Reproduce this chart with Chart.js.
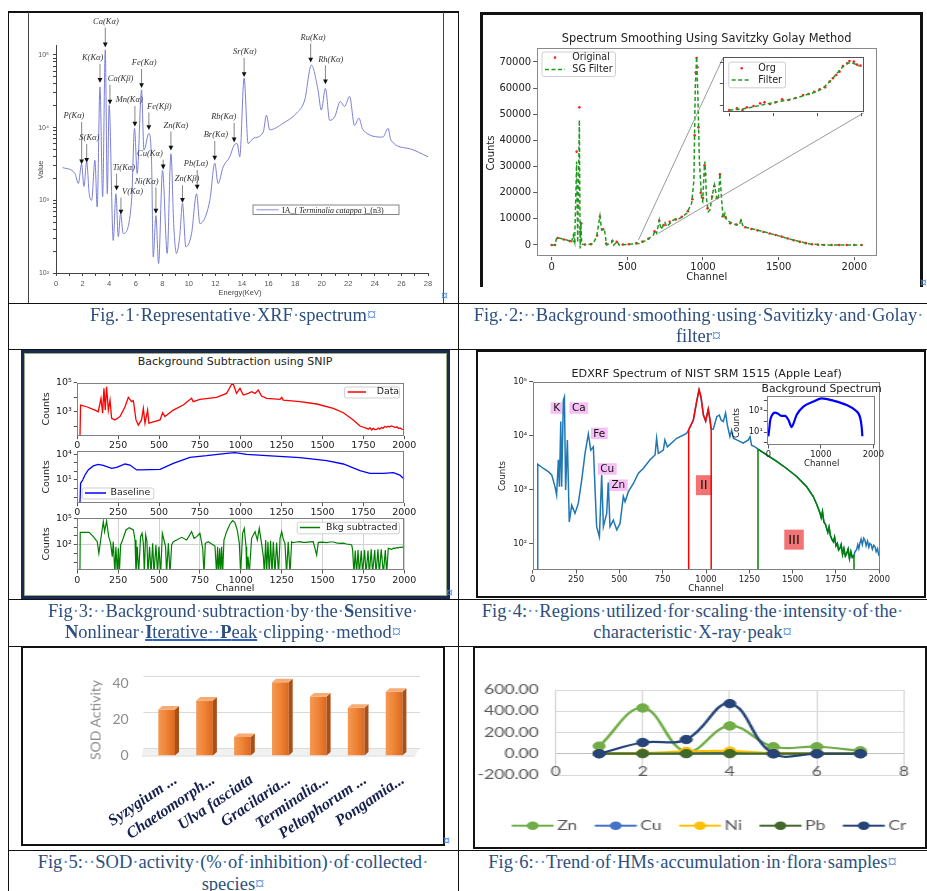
<!DOCTYPE html>
<html>
<head>
<meta charset="utf-8">
<title>XRF figure panel</title>
<script src="https://cdn.jsdelivr.net/npm/chart.js@4.4.1/dist/chart.umd.min.js"></script>
<style>
  html, body { margin:0; padding:0; background:#fff; }
  body { position:relative; width:927px; height:891px; overflow:hidden; }
  canvas { position:absolute; }
  .ln { position:absolute; background:#111; }
  .box { position:absolute; box-sizing:border-box; }
  .cap { position:absolute; font-family:"Liberation Serif","Times New Roman",serif; font-size:18.5px; line-height:21.5px; color:#2c4f80; text-align:center; white-space:nowrap; }
  .m { color:#5b93d6; }
  .cell { position:absolute; font:11px "DejaVu Sans"; color:#4a8ae0; }
  .lbl { position:absolute; white-space:nowrap; font-family:"DejaVu Sans",sans-serif; color:#222; transform:translate(-50%,-50%); line-height:1; }
  .rot { transform:translate(-50%,-50%) rotate(-90deg); }
  u { text-decoration-color:#2f62c0; text-decoration-thickness:2px; }
</style>
</head>
<body>
<!-- table rules -->
<div class="ln" style="left:8px;top:11px;width:1px;height:880px"></div>
<div class="ln" style="left:458px;top:11px;width:1px;height:880px"></div>
<div class="ln" style="left:8px;top:11px;width:451px;height:2px"></div>
<div class="ln" style="left:8px;top:303px;width:919px;height:1px"></div>
<div class="ln" style="left:8px;top:349px;width:919px;height:1px"></div>
<div class="ln" style="left:8px;top:599px;width:919px;height:1px"></div>
<div class="ln" style="left:8px;top:646px;width:919px;height:1px"></div>
<div class="ln" style="left:8px;top:850px;width:919px;height:1px"></div>

<!-- picture frames -->
<div class="ln" style="left:28px;top:12px;width:1px;height:291px;background:#444"></div>
<div class="ln" style="left:443px;top:12px;width:1px;height:291px;background:#444"></div>
<div class="ln" style="left:480px;top:12px;width:443px;height:3px"></div>
<div class="ln" style="left:480px;top:12px;width:3px;height:275px"></div>
<div class="ln" style="left:920px;top:12px;width:3px;height:275px"></div>
<div class="box" style="left:21px;top:350px;width:429px;height:249px;border:3px solid #1b2a4e"></div>
<div class="box" style="left:24px;top:353px;width:423px;height:243px;border:1px solid #9aab8c"></div>
<div class="box" style="left:476px;top:350px;width:450px;height:248px;border:2px solid #111"></div>
<div class="box" style="left:21px;top:646px;width:424px;height:200px;border:2px solid #111"></div>
<div class="box" style="left:473px;top:646px;width:454px;height:203px;border:2px solid #111"></div>

<!-- charts -->
<canvas id="c1" width="413" height="288" style="left:29px;top:14px"></canvas>
<canvas id="c2" width="436" height="283" style="left:483px;top:15px"></canvas>
<canvas id="c2i" width="180" height="85" style="left:700px;top:40px"></canvas>
<canvas id="c3a" width="423" height="80" style="left:24px;top:368px"></canvas>
<canvas id="c3b" width="423" height="77" style="left:24px;top:438px"></canvas>
<canvas id="c3c" width="423" height="90" style="left:24px;top:505px"></canvas>
<canvas id="c4" width="445" height="243" style="left:478px;top:352px"></canvas>
<canvas id="c4i" width="150" height="78" style="left:740px;top:380px"></canvas>
<canvas id="c5" width="420" height="196" style="left:23px;top:648px"></canvas>
<div style="position:absolute;left:475px;top:648px;width:321px;height:198px;transform:scaleX(1.4);transform-origin:0 0">
  <canvas id="c6" width="321" height="198" style="left:0;top:0"></canvas>
</div>

<!-- chart titles and axis titles -->
<div class="lbl" style="left:240px;top:291.5px;font:7.5px 'Liberation Sans';color:#444">Energy(KeV)</div>
<div class="lbl rot" style="left:40px;top:170px;font:7.5px 'Liberation Sans';color:#444">Value</div>

<div class="lbl" style="left:706.7px;top:39px;font-size:11.4px">Spectrum Smoothing Using Savitzky Golay Method</div>
<div class="lbl" style="left:706.7px;top:276.7px;font-size:10px">Channel</div>
<div class="lbl rot" style="left:490.7px;top:152.5px;font-size:10px">Counts</div>

<div class="lbl" style="left:235px;top:361px;font-size:11px">Background Subtraction using SNIP</div>
<div class="lbl rot" style="left:46px;top:409px;font-size:9.5px">Counts</div>
<div class="lbl rot" style="left:46px;top:477px;font-size:9.5px">Counts</div>
<div class="lbl rot" style="left:46px;top:544px;font-size:9.5px">Counts</div>
<div class="lbl" style="left:235px;top:588.3px;font-size:9.5px">Channel</div>

<div class="lbl" style="left:706.7px;top:374.3px;font-size:11.2px">EDXRF Spectrum of NIST SRM 1515 (Apple Leaf)</div>
<div class="lbl" style="left:706px;top:587.7px;font-size:8.6px">Channel</div>
<div class="lbl rot" style="left:501.7px;top:476px;font-size:8.6px">Counts</div>
<div class="lbl" style="left:821.7px;top:389px;font-size:10.8px">Background Spectrum</div>
<div class="lbl" style="left:821.7px;top:462.7px;font-size:8.6px">Channel</div>
<div class="lbl rot" style="left:736px;top:423px;font-size:8.6px">Counts</div>

<div class="lbl rot" style="left:95px;top:720px;font:14px Lato;color:#8c8c8c">SOD Activity</div>

<!-- end-of-cell marks -->
<div class="cell" style="left:441px;top:289px">¤</div>
<div class="cell" style="left:920px;top:276px">¤</div>
<div class="cell" style="left:446px;top:586px">¤</div>
<div class="cell" style="left:443px;top:834px">¤</div>

<!-- captions -->
<div class="cap" style="left:8px;top:304.7px;width:450px">Fig.·1·Representative·XRF·spectrum¤</div>
<div class="cap" style="left:464px;top:304.7px;width:469px">Fig.·2:··Background·smoothing·using·Savitizky·and·Golay·<br>filter¤</div>
<div class="cap" style="left:8px;top:600.7px;width:450px">Fig·3:··Background·subtraction·by·the·<b>S</b>ensitive·<br><b>N</b>onlinear·<u><b>I</b>terative··<b>P</b>eak</u>·clipping··method¤</div>
<div class="cap" style="left:458px;top:600.7px;width:469px">Fig·4:··Regions·utilized·for·scaling·the·intensity·of·the·<br>characteristic·X-ray·peak¤</div>
<div class="cap" style="left:8px;top:852px;width:450px">Fig·5:··SOD·activity·(%·of·inhibition)·of·collected·<br>species¤</div>
<div class="cap" style="left:458px;top:852px;width:469px">Fig·6:··Trend·of·HMs·accumulation·in·flora·samples¤</div>

<script>
// ================= data =================
// Fig. 1: XRF spectrum, energy (keV) and counts
const xrfEnergy = [0.5,1.43,1.68,1.93,2.1,2.31,2.5,2.68,2.93,3.1,3.31,3.51,3.71,3.86,4.0,4.31,4.51,4.69,4.86,5.06,5.69,5.91,6.11,6.44,6.62,6.99,7.19,7.32,7.52,7.72,8.02,8.37,8.65,8.87,9.07,9.32,9.52,9.77,10.2,10.58,10.83,11.58,11.95,12.2,12.58,13.08,13.41,13.63,13.83,14.16,14.46,14.84,15.6,15.84,16.09,17.1,18.1,18.72,19.22,19.72,19.97,20.28,20.6,20.98,21.4,21.72,22.1,22.47,22.8,23.1,24.6,25.0,25.2,26.6,28.0];
const xrfValue = [2820,2340,1700,3160,1550,3390,1230,1000,3550,810,36300,1120,117500,1230,20400,280,1230,316,660,350,1000,9770,2340,33100,4900,8300,3550,166,617,135,2570,186,4370,427,186,331,912,229,347,1230,479,1000,3240,1700,2880,3980,5750,6030,3980,47900,6030,7080,8710,14800,9330,11500,15800,24000,72400,33100,17400,34700,12600,14100,22900,19500,26900,10700,13500,9330,7410,9770,6760,5130,3980];
const xrfPeakNames = ['P(Kα)','S(Kα)','K(Kα)','Ca(Kα)','Ca(Kβ)','Ti(Kα)','V(Kα)','Mn(Kα)','Fe(Kα)','Fe(Kβ)','Ni(Kα)','Cu(Kα)','Zn(Kα)','Zn(Kβ)','Pb(Lα)','Br(Kα)','Rb(Kα)','Sr(Kα)','Ru(Kα)','Rh(Kα)'];
const xrfPeakEnergy = [1.93,2.31,3.31,3.71,4.06,4.56,4.89,5.94,6.44,6.99,7.52,8.07,8.65,9.52,10.63,11.95,13.41,14.16,19.17,20.28];
const xrfPeakValue = [3240,3390,42700,131800,21400,1410,660,10700,36300,9550,676,2750,5010,955,1450,3630,6460,51300,81300,40700];
const xrfLabelEnergy = [1.35,2.51,2.76,3.76,4.86,5.11,5.76,5.51,6.64,7.77,6.82,7.07,9.02,9.87,10.53,12.03,12.63,14.21,19.35,20.68];
const xrfLabelValue = [14500,7240,91200,288000,46800,2820,1320,24000,77600,19500,1820,4370,10700,1950,3160,7940,14100,110000,174000,87100];

// Fig. 2: raw spectrum and Savitzky-Golay smoothed spectrum [channel, counts]
const sgOriginal = [[0,0],[22,0],[40,2700],[80,2100],[120,1500],[150,1400],[165,35700],[176,15000],[183,52650],[188,5000],[196,8200],[220,200],[260,300],[300,3600],[319,10900],[340,6000],[360,600],[400,1500],[430,1200],[470,200],[510,300],[560,700],[600,1300],[640,2400],[680,5200],[711,9300],[740,7600],[780,8900],[820,9800],[860,10800],[900,12900],[930,17500],[945,42000],[952,66000],[958,71500],[963,68000],[970,45000],[985,20000],[1000,18000],[1010,30500],[1015,27000],[1030,14000],[1060,18500],[1075,22500],[1090,18000],[1112,27000],[1130,11000],[1150,10500],[1180,8300],[1220,7800],[1251,9300],[1280,6800],[1320,6100],[1360,5600],[1400,5000],[1440,4400],[1480,3800],[1520,3200],[1560,2500],[1600,1800],[1640,1200],[1680,700],[1720,300],[1760,100],[1800,0],[1850,0],[1900,0],[1950,0],[2000,0],[2048,0]];
const sgFiltered = [[0,0],[22,0],[33,2800],[55,2550],[99,1900],[132,1275],[143,3800],[152,1300],[165,31900],[172,1000],[183,47800],[188,-1300],[193,8900],[198,600],[205,300],[231,0],[275,640],[297,3200],[319,11100],[330,5700],[348,6100],[363,0],[396,900],[403,1650],[410,0],[434,1275],[445,0],[540,380],[584,640],[628,1900],[672,3800],[683,5480],[694,4460],[711,9560],[722,6000],[749,8540],[760,7000],[804,9560],[848,10200],[892,12100],[925,15940],[940,24860],[949,60560],[958,72000],[967,55460],[976,32500],[991,17200],[998,16570],[1009,29960],[1013,31900],[1024,17200],[1035,12750],[1046,13400],[1064,19760],[1075,22950],[1090,18490],[1101,17200],[1112,27400],[1123,17200],[1134,10200],[1145,12100],[1156,9560],[1200,8030],[1240,7650],[1251,9560],[1266,7000],[1377,5480],[1487,3700],[1597,1900],[1707,380],[1817,0],[2048,0]];
const sgZoomOriginal = [[580,1766],[587,1844],[592,1766],[596,1891],[602,1953],[608,2078],[612,2125],[617,2047],[622,2125],[628,2266],[634,2234],[640,2328],[647,2469],[652,2516],[657,2625],[662,2734],[667,2828],[671,3094],[674,3250],[677,3406],[680,3563],[683,3828],[687,3953],[689,4063],[693,4031],[696,3891],[699,3844]];
const sgZoomFiltered = [[580,1766],[593,1828],[608,1984],[623,2141],[638,2297],[650,2484],[661,2672],[667,2891],[673,3203],[679,3563],[685,3875],[690,3984],[694,3922],[698,3828]];
const sgZoomWindow = [[573,1900],[705,4460]];

// Fig. 3: SNIP background subtraction [channel, counts]
const snipData = [[16,10],[20,2880],[57,2190],[108,1290],[128,1000],[145,8300],[155,780],[163,40700],[171,1290],[179,52500],[190,1290],[200,6300],[210,350],[230,270],[261,460],[292,2190],[312,9800],[332,4900],[343,5750],[359,270],[373,120],[393,270],[404,1700],[414,160],[430,1290],[438,160],[465,200],[506,270],[522,850],[536,460],[587,1290],[648,2880],[699,8300],[709,4900],[750,7080],[852,9800],[913,18200],[944,77600],[954,81300],[974,18200],[995,40700],[1015,14100],[1046,18200],[1066,24000],[1087,18200],[1107,30900],[1127,12000],[1158,8300],[1240,7080],[1250,9800],[1260,6300],[1362,4900],[1464,3390],[1566,1700],[1627,850],[1688,270],[1729,102],[1770,71],[1780,62],[1790,78],[1800,55],[1810,70],[1820,58],[1831,60],[1840,75],[1850,62],[1860,80],[1870,72],[1880,95],[1892,83],[1900,100],[1910,88],[1920,105],[1933,93],[1945,80],[1955,90],[1965,70],[1973,75],[1985,62],[2000,60]];
const snipBaseline = [[16,0.01],[20,4.1],[33,10],[47,38],[67,148],[98,437],[128,676],[159,513],[210,229],[241,302],[292,741],[322,562],[363,148],[383,148],[506,178],[587,891],[689,4470],[791,6920],[913,13200],[964,15500],[1036,10000],[1158,6920],[1362,4070],[1525,1820],[1627,741],[1729,123],[1790,60],[1872,60],[1933,72],[1973,38],[2000,12]];
const snipSubtracted = [[16,0.05],[18,2540],[73,2540],[98,815],[122,219],[132,10.3],[143,340],[159,41700],[167,3030],[179,49700],[192,815],[204,142],[214,4.3],[220,219],[230,0.05],[236,59],[245,0.05],[251,38],[257,0.05],[265,92],[277,340],[298,4690],[318,8650],[343,4690],[353,340],[359,0.05],[367,59],[375,0.05],[387,815],[396,1950],[404,142],[410,0.05],[418,1260],[426,219],[432,0.05],[442,59],[451,0.05],[461,142],[469,0.05],[481,92],[491,0.05],[499,59],[510,0.05],[520,1950],[530,340],[540,59],[546,0.05],[557,142],[567,0.05],[577,92],[587,219],[608,340],[638,684],[669,340],[699,3030],[714,526],[730,815],[750,1950],[767,38],[775,0.05],[783,142],[801,219],[822,119],[842,70],[852,0.05],[858,59],[864,0.05],[871,38],[877,0.05],[883,59],[889,0.05],[897,340],[913,3030],[934,22600],[950,54200],[964,32100],[979,3940],[991,142],[999,0.05],[1011,1950],[1021,7260],[1032,59],[1036,0.05],[1044,4.3],[1052,0.05],[1066,526],[1087,3030],[1101,340],[1113,7260],[1127,142],[1138,4.3],[1144,0.05],[1152,340],[1158,0.05],[1166,219],[1174,0.05],[1182,285],[1191,0.05],[1199,219],[1209,0.05],[1219,169],[1231,0.05],[1240,526],[1250,3030],[1260,405],[1270,142],[1280,0.05],[1290,219],[1301,0.05],[1311,219],[1321,169],[1340,200],[1362,219],[1380,185],[1403,180],[1420,210],[1443,219],[1464,6.6],[1474,180],[1500,195],[1525,169],[1545,200],[1566,200],[1585,160],[1606,142],[1627,150],[1647,119],[1665,110],[1678,92],[1684,25],[1692,0.05],[1700,21],[1708,0.05],[1717,25],[1725,0.05],[1737,21],[1745,0.05],[1757,25],[1766,0.05],[1778,21],[1786,0.05],[1798,29],[1806,0.05],[1819,25],[1827,0.05],[1839,29],[1847,0.05],[1859,29],[1872,0.05],[1884,25],[1892,0.05],[1902,38],[1913,33],[1923,29],[1933,40],[1943,38],[1954,45],[1964,44],[1974,50],[1984,50],[1992,55],[2000,70]];

// Fig. 4: EDXRF spectrum of NIST SRM 1515 [channel, counts]
const edxSpectrum = [[27,10],[29,2950],[62,2450],[90,2140],[110,1860],[129,1120],[138,790],[148,3550],[154,1120],[162,18200],[167,1120],[177,45700],[183,52500],[190,980],[200,8300],[211,250],[225,510],[244,360],[263,550],[283,1510],[302,4680],[321,10700],[335,5370],[350,6170],[360,980],[369,204],[385,132],[398,1860],[408,204],[427,360],[436,1350],[446,204],[465,270],[485,178],[504,234],[523,740],[533,590],[552,910],[581,1290],[610,2000],[638,2450],[677,3550],[706,4370],[715,8910],[725,4680],[754,5370],[763,8300],[777,6170],[831,8910],[888,11000],[900,12800],[927,19500],[946,42700],[960,70800],[971,52500],[985,24000],[998,18600],[1013,30900],[1023,19500],[1030,13000],[1042,13200],[1062,22400],[1077,24000],[1087,19500],[1100,18200],[1113,26300],[1123,15800],[1138,9550],[1148,12600],[1158,8910],[1177,8300],[1215,7240],[1244,8300],[1254,9550],[1263,6610],[1283,6170],[1300,5600],[1350,4370],[1408,3310],[1465,2450],[1523,1740],[1581,1120],[1619,740],[1640,520],[1658,363],[1665,300],[1672,390],[1680,250],[1688,230],[1696,191],[1703,160],[1710,200],[1718,140],[1726,120],[1735,107],[1742,130],[1750,90],[1758,100],[1765,75],[1773,81],[1780,95],[1788,62],[1796,80],[1804,58],[1812,65],[1820,78],[1828,52],[1836,70],[1844,55],[1854,60],[1860,70],[1869,76],[1876,95],[1882,80],[1888,100],[1895,120],[1902,95],[1910,125],[1917,115],[1924,90],[1932,110],[1940,85],[1946,100],[1953,95],[1960,78],[1968,92],[1975,87],[1982,70],[1990,80],[1996,62],[2000,65]];
const edxBackground = [[0,4],[19,23],[32,100],[63,340],[127,690],[190,525],[254,340],[318,340],[381,145],[445,30],[476,60],[540,427],[667,2570],[857,7590],[1016,15500],[1238,9330],[1492,3630],[1651,1230],[1746,257],[1778,30],[1791,4]];
const edxRegionII = [900, 1030];
const edxRegionIII = [1300, 1854];
const edxPeakLabels = ['K','Ca','Fe','Cu','Zn'];
const edxPeakLabelCh = [138, 266, 384, 430, 494];
const edxPeakLabelCounts = [32400, 32400, 11000, 2400, 1200];
const edxRegionLabels = ['II','III'];
const edxRegionLabelCh = [987, 1508];
const edxRegionLabelCounts = [1200, 117];

// Fig. 5: SOD activity (% inhibition)
const sodSpecies = ['Syzygium ...','Chaetomorph...','Ulva fasciata','Gracilaria...','Terminalia...','Peltophorum ...','Pongamia...'];
const sodActivity = [25.4, 30.3, 10.2, 40.4, 32.6, 26.3, 35.2];

// Fig. 6: heavy-metal accumulation per sample
const hmSample = [1, 2, 3, 4, 5, 6, 7];
const hmZn = [72, 431, 19, 262, 66, 66, 28];
const hmCu = [3, 4, 4, 6, 3, 2, 3];
const hmNi = [4, 6, 22, 25, 5, 3, 3];
const hmPb = [1, 1, 1, 1, 1, 1, 1];
const hmCr = [0, 106, 134, 472, 0, 0, 0];

// ================= helpers =================
Chart.defaults.animation = false;
Chart.defaults.responsive = false;
Chart.defaults.devicePixelRatio = 1;
Chart.defaults.events = [];
Chart.defaults.plugins.legend.display = false;
Chart.defaults.plugins.tooltip.enabled = false;
Chart.defaults.font.family = 'DejaVu Sans';
Chart.defaults.color = '#333';

const SUP = {'0':'⁰','1':'¹','2':'²','3':'³','4':'⁴','5':'⁵','-':'⁻'};
function decade(v) { const e = Math.log10(v), r = Math.round(e); return Math.abs(e - r) < 1e-6 ? r : null; }
function powLabel(v) { const r = decade(v); return r === null ? '' : '10' + String(r).split('').map(c => SUP[c]).join(''); }
function pts(pairs) { return pairs.map(p => ({x: p[0], y: p[1]})); }
function zip(xs, ys) { return xs.map((x, i) => ({x, y: ys[i]})); }
function setTicks(vals) { return ax => { ax.ticks = vals.map(v => ({value: v})); }; }
function logTicks(lo, hi, minor) {
  const out = [];
  for (let e = lo; e <= hi; e++) {
    out.push(Math.pow(10, e));
    if (minor && e < hi) for (let k = 2; k <= 9; k++) out.push(k * Math.pow(10, e));
  }
  return out;
}
function el(id) { return document.getElementById(id); }
function box(id) { const c = el(id); return {x: parseFloat(c.style.left), y: parseFloat(c.style.top), w: c.width, h: c.height}; }
// layout so the plot area lands on a given page rectangle
function place(id, area) {
  const b = box(id);
  return {
    padding: {left: 0, top: area.t - b.y, right: b.x + b.w - area.r, bottom: 0},
    yw: area.l - b.x,
    xh: b.y + b.h - area.b,
    b
  };
}
function spineBox(color) {
  return { id: 'spines', afterDatasetsDraw(c) {
    const a = c.chartArea, x = c.ctx;
    x.save(); x.strokeStyle = color; x.lineWidth = 1;
    x.strokeRect(Math.round(a.left) + 0.5, Math.round(a.top) + 0.5, Math.round(a.right - a.left) - 1, Math.round(a.bottom - a.top) - 1);
    x.restore();
  }};
}
function legendFrame(ctx, x, y, w, h) {
  ctx.save();
  ctx.fillStyle = 'rgba(255,255,255,0.92)';
  ctx.strokeStyle = '#cfcfcf'; ctx.lineWidth = 1;
  ctx.beginPath(); ctx.roundRect(x + 0.5, y + 0.5, w, h, 2); ctx.fill(); ctx.stroke();
  ctx.restore();
}
function mplX(min, max, ticks, fontSize, fit, labels) {
  return {
    type: 'linear', min, max, afterBuildTicks: setTicks(ticks),
    afterFit: s => { s.height = fit.xh; },
    border: {display: false},
    grid: {display: true, drawOnChartArea: false, tickLength: 3.5, tickColor: '#555'},
    ticks: {autoSkip: false, maxRotation: 0, padding: 1, color: '#222', font: {size: fontSize},
            callback: labels === false ? () => '' : (v => String(v))}
  };
}
function mplLogY(min, max, ticks, fontSize, fit, shown) {
  return {
    type: 'logarithmic', min, max, afterBuildTicks: setTicks(ticks),
    afterFit: s => { s.width = fit.yw; },
    border: {display: false},
    grid: {display: true, drawOnChartArea: false, tickLength: 3.5, tickColor: '#555'},
    ticks: {autoSkip: false, padding: 2, color: '#222', font: {size: fontSize},
            callback: v => (shown.includes(decade(v)) ? powLabel(v) : '')}
  };
}
function line(data, color, width, extra) {
  return Object.assign({data, borderColor: color, borderWidth: width, pointRadius: 0, fill: false, tension: 0}, extra || {});
}

// ================= Fig. 1 =================
(function () {
  const L = place('c1', {l: 56, t: 45, r: 428, b: 273});
  const deco = { id: 'xrfDeco', afterDatasetsDraw(c) {
    const ctx = c.ctx, xs = c.scales.x, ys = c.scales.y;
    ctx.save();
    ctx.font = 'italic 8.5px "Liberation Serif"';
    ctx.textAlign = 'center'; ctx.textBaseline = 'middle';
    xrfPeakNames.forEach((name, i) => {
      const lx = xs.getPixelForValue(xrfLabelEnergy[i]), ly = ys.getPixelForValue(xrfLabelValue[i]);
      const mx = xs.getPixelForValue(xrfPeakEnergy[i]), my = ys.getPixelForValue(xrfPeakValue[i]);
      ctx.fillStyle = '#333'; ctx.fillText(name, lx, ly);
      ctx.strokeStyle = '#666'; ctx.lineWidth = 0.8;
      ctx.beginPath(); ctx.moveTo(mx, ly + 6); ctx.lineTo(mx, my - 3); ctx.stroke();
      ctx.fillStyle = '#111';
      ctx.beginPath(); ctx.moveTo(mx - 2.4, my - 3.8); ctx.lineTo(mx + 2.4, my - 3.8); ctx.lineTo(mx, my + 1); ctx.closePath(); ctx.fill();
    });
    // legend (page coordinates)
    ctx.translate(-L.b.x, -L.b.y);
    ctx.fillStyle = '#fff'; ctx.strokeStyle = '#666'; ctx.lineWidth = 0.8;
    ctx.fillRect(253, 205, 146, 9.5); ctx.strokeRect(253, 205, 146, 9.5);
    ctx.strokeStyle = '#8d90d8'; ctx.lineWidth = 1;
    ctx.beginPath(); ctx.moveTo(256.5, 209.8); ctx.lineTo(278.5, 209.8); ctx.stroke();
    ctx.fillStyle = '#222'; ctx.textAlign = 'left'; ctx.textBaseline = 'alphabetic';
    let x = 282;
    [['IA_( ', ''], ['Terminalia catappa', 'italic '], [' )_(n3)', '']].forEach(([t, st]) => {
      ctx.font = st + '8px "Liberation Serif"'; ctx.fillText(t, x, 212.6); x += ctx.measureText(t).width;
    });
    ctx.restore();
  }};
  const xt = []; for (let k = 0; k <= 28; k++) xt.push(k);
  new Chart(el('c1'), {
    type: 'line',
    data: {datasets: [line(zip(xrfEnergy, xrfValue), '#7b7fd4', 1, {cubicInterpolationMode: 'monotone'})]},
    options: {
      layout: {padding: L.padding},
      scales: {
        x: {type: 'linear', min: 0, max: 28, afterBuildTicks: setTicks(xt), afterFit: s => { s.height = L.xh; },
            border: {display: true, color: '#444', width: 1},
            grid: {display: true, drawOnChartArea: false, tickLength: 3, tickColor: '#444'},
            ticks: {autoSkip: false, maxRotation: 0, padding: 3, color: '#555', font: {family: 'Liberation Sans', size: 7.5},
                    callback: v => (v % 2 === 0 ? String(v) : '')}},
        y: {type: 'logarithmic', min: 100, max: 137000, afterBuildTicks: setTicks(logTicks(2, 5, true)),
            afterFit: s => { s.width = L.yw; },
            border: {display: true, color: '#444', width: 1},
            grid: {display: true, drawOnChartArea: false, tickLength: 3, tickColor: '#444'},
            ticks: {autoSkip: false, padding: 4, color: '#555', font: {family: 'Liberation Sans', size: 7},
                    callback: v => powLabel(v)}}
      }
    },
    plugins: [deco]
  });
})();

// ================= Fig. 2 =================
(function () {
  const L = place('c2', {l: 536.7, t: 48.3, r: 876.7, b: 256.7});
  const deco = { id: 'sgDeco', afterDraw(c) {
    const ctx = c.ctx, xs = c.scales.x, ys = c.scales.y;
    ctx.save();
    // lines from the zoomed window to the inset corners
    ctx.strokeStyle = '#9a9a9a'; ctx.lineWidth = 1;
    const corners = [[723.3, 57.3], [864, 112.7]];
    sgZoomWindow.forEach((p, i) => {
      ctx.beginPath();
      ctx.moveTo(xs.getPixelForValue(p[0]), ys.getPixelForValue(p[1]));
      ctx.lineTo(corners[i][0] - L.b.x, corners[i][1] - L.b.y);
      ctx.stroke();
    });
    ctx.translate(-L.b.x, -L.b.y);
    legendFrame(ctx, 541.5, 51.5, 73.5, 24.5);
    ctx.fillStyle = '#ff2020'; ctx.beginPath(); ctx.arc(555, 57.6, 1.3, 0, 7); ctx.fill();
    ctx.strokeStyle = '#1f9a1f'; ctx.lineWidth = 1.5; ctx.setLineDash([4, 2.5]);
    ctx.beginPath(); ctx.moveTo(545, 69.5); ctx.lineTo(565, 69.5); ctx.stroke(); ctx.setLineDash([]);
    ctx.fillStyle = '#222'; ctx.font = '9.6px "DejaVu Sans"'; ctx.textBaseline = 'middle';
    ctx.fillText('Original', 572.3, 57.6); ctx.fillText('SG Filter', 572.3, 69.5);
    ctx.restore();
  }};
  new Chart(el('c2'), {
    type: 'line',
    data: {datasets: [
      line(pts(sgFiltered), '#1f9a1f', 1.5, {borderDash: [4, 2.5], order: 0}),
      {data: pts(sgOriginal), showLine: false, pointRadius: 1.3, pointBorderWidth: 0, pointBackgroundColor: '#ff2020', order: 1}
    ]},
    options: {
      layout: {padding: L.padding},
      scales: {
        x: mplX(-99, 2148, [0, 500, 1000, 1500, 2000], 10, L),
        y: {type: 'linear', min: -4476, max: 75240, afterBuildTicks: setTicks([0,10000,20000,30000,40000,50000,60000,70000]),
            afterFit: s => { s.width = L.yw; }, border: {display: false},
            grid: {display: true, drawOnChartArea: false, tickLength: 3.5, tickColor: '#555'},
            ticks: {autoSkip: false, padding: 2, color: '#222', font: {size: 10}, callback: v => String(v)}}
      }
    },
    plugins: [spineBox('#8a8a8a'), deco]
  });

  const I = place('c2i', {l: 723.3, t: 57.3, r: 864, b: 112.7});
  const idec = {
    id: 'insetDeco',
    beforeDraw(c) { const a = c.chartArea; c.ctx.save(); c.ctx.fillStyle = '#fff'; c.ctx.fillRect(a.left, a.top, a.width, a.height); c.ctx.restore(); },
    afterDraw(c) {
      const ctx = c.ctx; ctx.save(); ctx.translate(-I.b.x, -I.b.y);
      legendFrame(ctx, 728.3, 61.7, 56.7, 25.6);
      ctx.fillStyle = '#ff2020'; ctx.beginPath(); ctx.arc(741.7, 68.3, 1.3, 0, 7); ctx.fill();
      ctx.strokeStyle = '#1f9a1f'; ctx.lineWidth = 1.5; ctx.setLineDash([4, 2.5]);
      ctx.beginPath(); ctx.moveTo(731.7, 80); ctx.lineTo(751, 80); ctx.stroke(); ctx.setLineDash([]);
      ctx.fillStyle = '#222'; ctx.font = '9.6px "DejaVu Sans"'; ctx.textBaseline = 'middle';
      ctx.fillText('Org', 758.3, 68.3); ctx.fillText('Filter', 758.3, 80);
      ctx.restore();
    }
  };
  new Chart(el('c2i'), {
    type: 'line',
    data: {datasets: [
      line(pts(sgZoomFiltered), '#1f9a1f', 1.5, {borderDash: [4, 2.5], order: 0, cubicInterpolationMode: 'monotone'}),
      {data: pts(sgZoomOriginal), showLine: false, pointRadius: 1.3, pointBorderWidth: 0, pointBackgroundColor: '#ff2020', order: 1}
    ]},
    options: {
      layout: {padding: I.padding},
      scales: {
        x: mplX(574.6, 702.2, [580, 620, 660, 700], 8, I, false),
        y: {type: 'linear', min: 1641, max: 4234, afterBuildTicks: setTicks([2000, 3000, 4000]),
            afterFit: s => { s.width = I.yw; }, border: {display: false},
            grid: {display: true, drawOnChartArea: false, tickLength: 3.5, tickColor: '#555'},
            ticks: {padding: 0, callback: () => ''}}
      }
    },
    plugins: [idec, spineBox('#555')]
  });
})();

// ================= Fig. 3 =================
(function () {
  const xt = [0, 250, 500, 750, 1000, 1250, 1500, 1750, 2000];
  function panel(id, area, ds, ymin, ymax, lo, hi, shown, gridOn, leg) {
    const L = place(id, area);
    const legend = { id: 'leg', afterDraw(c) {
      const ctx = c.ctx; ctx.save(); ctx.translate(-L.b.x, -L.b.y);
      legendFrame(ctx, leg.x, leg.y, leg.w, leg.h);
      ctx.strokeStyle = ds.borderColor; ctx.lineWidth = 1.5;
      ctx.beginPath(); ctx.moveTo(leg.lx1, leg.ly); ctx.lineTo(leg.lx2, leg.ly); ctx.stroke();
      ctx.fillStyle = '#222'; ctx.font = '9.4px "DejaVu Sans"'; ctx.textBaseline = 'middle';
      ctx.fillText(leg.text, leg.tx, leg.ly);
      ctx.restore();
    }};
    const x = mplX(0, 2000, xt, 9.5, L);
    const y = mplLogY(ymin, ymax, logTicks(lo, hi, false), 9.5, L, shown);
    if (gridOn) {
      x.grid = {display: true, drawOnChartArea: true, tickLength: 3.5, tickColor: '#555', color: '#d2d2d2'};
      y.grid = {display: true, drawOnChartArea: true, tickLength: 3.5, tickColor: '#555',
                color: ctx => (ctx.tick && shown.includes(decade(ctx.tick.value)) ? '#d2d2d2' : 'rgba(0,0,0,0)')};
    }
    new Chart(el(id), {
      type: 'line', data: {datasets: [ds]},
      options: {layout: {padding: L.padding}, scales: {x, y}},
      plugins: [spineBox('#808080'), legend]
    });
  }
  panel('c3a', {l: 77.3, t: 382.7, r: 404.3, b: 435.7}, line(pts(snipData), '#ff0000', 1.3), 22, 100000, 2, 5, [3, 5], false,
        {x: 344, y: 386.5, w: 55, h: 11, lx1: 347.7, lx2: 366, ly: 392, tx: 376.7, text: 'Data'});
  panel('c3b', {l: 77.3, t: 451, r: 404.3, b: 502.7}, line(pts(snipBaseline), '#0000ff', 1.3), 0.022, 24500, -1, 4, [1, 4], false,
        {x: 81.7, y: 487.5, w: 71.6, h: 11, lx1: 85, lx2: 106, ly: 493, tx: 110.5, text: 'Baseline'});
  panel('c3c', {l: 77.3, t: 518.3, r: 404.3, b: 570}, line(pts(snipSubtracted), '#008000', 1.2), 0.13, 100000, 0, 5, [2, 5], true,
        {x: 296.7, y: 521.7, w: 102.3, h: 11.6, lx1: 300, lx2: 320, ly: 527.5, tx: 326, text: 'Bkg subtracted'});
})();

// ================= Fig. 4 =================
(function () {
  const L = place('c4', {l: 532.7, t: 381.7, r: 879.3, b: 570});
  const valAt = ch => edxSpectrum.find(p => p[0] === ch)[1];
  const within = r => edxSpectrum.filter(p => p[0] >= r[0] && p[0] <= r[1]);
  const marker = (ch, color) => line([{x: ch, y: 1}, {x: ch, y: valAt(ch)}], color, 1.5);
  const tags = { id: 'edxTags', beforeDatasetsDraw(c) {
    const ctx = c.ctx, xs = c.scales.x, ys = c.scales.y;
    ctx.save(); ctx.textAlign = 'center'; ctx.textBaseline = 'middle';
    function tag(text, ch, v, font, fill, padX, h) {
      const cx = xs.getPixelForValue(ch), cy = ys.getPixelForValue(v);
      ctx.font = font; const w = ctx.measureText(text).width + 2 * padX;
      ctx.fillStyle = fill; ctx.fillRect(cx - w / 2, cy - h / 2, w, h);
      ctx.fillStyle = '#111'; ctx.fillText(text, cx, cy + 0.5);
    }
    edxPeakLabels.forEach((t, i) => tag(t, edxPeakLabelCh[i], edxPeakLabelCounts[i], '10.5px "DejaVu Sans"', 'rgba(238,130,238,0.5)', 2.5, 11.5));
    edxRegionLabels.forEach((t, i) => tag(t, edxRegionLabelCh[i], edxRegionLabelCounts[i], '13px "DejaVu Sans"', 'rgba(240,90,90,0.85)', 4, 20));
    ctx.restore();
  }};
  new Chart(el('c4'), {
    type: 'line',
    data: {datasets: [
      line(pts(edxSpectrum), '#1f77b4', 1.5, {order: 3}),
      line(pts(within(edxRegionII)), '#ff0000', 1.5, {order: 1}),
      line(pts(within(edxRegionIII)), '#008000', 1.5, {order: 1}),
      marker(edxRegionII[0], '#ff0000'), marker(edxRegionII[1], '#ff0000'),
      marker(edxRegionIII[0], '#008000'), marker(edxRegionIII[1], '#008000')
    ]},
    options: {
      layout: {padding: L.padding},
      scales: {
        x: mplX(0, 2000, [0, 250, 500, 750, 1000, 1250, 1500, 1750, 2000], 8.4, L),
        y: mplLogY(32, 100000, logTicks(2, 5, false), 8.4, L, [2, 3, 4, 5])
      }
    },
    plugins: [tags, spineBox('#808080')]
  });

  const I = place('c4i', {l: 767.3, t: 396, r: 875.7, b: 445});
  const bg = { id: 'bg', beforeDraw(c) { const a = c.chartArea; c.ctx.save(); c.ctx.fillStyle = '#fff'; c.ctx.fillRect(a.left, a.top, a.width, a.height); c.ctx.restore(); } };
  const iy = mplLogY(0.64, 25700, logTicks(0, 4, false), 8.4, I, [1, 3]);
  iy.ticks.padding = 1;
  new Chart(el('c4i'), {
    type: 'line',
    data: {datasets: [line(pts(edxBackground), '#0000ff', 2.2, {cubicInterpolationMode: 'monotone'})]},
    options: {
      layout: {padding: I.padding},
      scales: {x: mplX(-20, 2045, [0, 1000, 2000], 8.4, I), y: iy}
    },
    plugins: [bg, spineBox('#808080')]
  });
})();

// ================= Fig. 5 =================
(function () {
  const L = place('c5', {l: 147.7, t: 674, r: 413, b: 755.5});
  const DX = 4, DY = -3.5;
  const bar3d = {
    id: 'bar3d',
    beforeDatasetsDraw(c) {
      const ctx = c.ctx, a = c.chartArea, ys = c.scales.y, y0 = ys.getPixelForValue(0);
      ctx.save();
      ctx.fillStyle = '#f1f1f1';
      ctx.beginPath(); ctx.moveTo(a.left - 6, y0); ctx.lineTo(a.right + 2, y0); ctx.lineTo(a.right + 7, y0 - 7.5); ctx.lineTo(a.left - 4.4, y0 - 7.5); ctx.closePath(); ctx.fill();
      ctx.strokeStyle = '#dadada'; ctx.lineWidth = 1;
      [0, 20, 40].forEach(v => {
        const y = Math.round(ys.getPixelForValue(v) - 7.5) + 0.5;
        ctx.beginPath(); ctx.moveTo(a.left - 4.4, y); ctx.lineTo(a.right + 7, y); ctx.stroke();
      });
      ctx.beginPath(); ctx.moveTo(a.left - 6, y0 + 0.5); ctx.lineTo(a.right + 2, y0 + 0.5); ctx.stroke();
      ctx.restore();
    },
    afterDatasetsDraw(c) {
      const ctx = c.ctx;
      ctx.save();
      c.getDatasetMeta(0).data.forEach(b => {
        const {x, y, base, width} = b.getProps(['x', 'y', 'base', 'width'], true);
        const l = x - width / 2, r = x + width / 2;
        ctx.fillStyle = '#a94f17';
        ctx.beginPath(); ctx.moveTo(r, y); ctx.lineTo(r + DX, y + DY); ctx.lineTo(r + DX, base + DY); ctx.lineTo(r, base); ctx.closePath(); ctx.fill();
        ctx.fillStyle = '#f6ac74';
        ctx.beginPath(); ctx.moveTo(l, y); ctx.lineTo(l + DX, y + DY); ctx.lineTo(r + DX, y + DY); ctx.lineTo(r, y); ctx.closePath(); ctx.fill();
      });
      ctx.restore();
    }
  };
  new Chart(el('c5'), {
    type: 'bar',
    data: {labels: sodSpecies, datasets: [{
      data: sodActivity, borderWidth: 0, barPercentage: 0.44, categoryPercentage: 1,
      backgroundColor: ctx => {
        const c = ctx.chart;
        if (!c.chartArea || ctx.dataIndex === undefined) return '#ed7d31';
        const cx = c.scales.x.getPixelForValue(ctx.dataIndex);
        const g = c.ctx.createLinearGradient(cx - 9, 0, cx + 9, 0);
        g.addColorStop(0, '#f39a58'); g.addColorStop(0.45, '#f08638'); g.addColorStop(1, '#d9661d');
        return g;
      }
    }]},
    options: {
      layout: {padding: L.padding},
      scales: {
        x: {afterFit: s => { s.height = L.xh; }, grid: {display: false}, border: {display: false},
            ticks: {autoSkip: false, minRotation: 34, maxRotation: 34, labelOffset: 9, padding: 7, color: '#17214f',
                    font: {family: 'Liberation Serif', size: 16, style: 'italic', weight: 'bold'}}},
        y: {min: 0, max: 45, afterBuildTicks: setTicks([0, 20, 40]), afterFit: s => { s.width = L.yw; },
            grid: {display: false}, border: {display: false},
            ticks: {autoSkip: false, padding: 11, color: '#8c8c8c', font: {family: 'Lato', size: 14}, callback: v => String(v)}}
      }
    },
    plugins: [bar3d]
  });
})();

// ================= Fig. 6 =================
(function () {
  const series = [
    {name: 'Zn', vals: hmZn, color: '#70ad47', order: 4},
    {name: 'Cu', vals: hmCu, color: '#4472c4', order: 3},
    {name: 'Ni', vals: hmNi, color: '#ffc000', order: 2},
    {name: 'Pb', vals: hmPb, color: '#43682b', order: 1},
    {name: 'Cr', vals: hmCr, color: '#264478', order: 0}
  ];
  const legend = { id: 'hmLegend', afterDraw(c) {
    const ctx = c.ctx; ctx.save();
    ctx.font = '12.5px Lato'; ctx.textBaseline = 'middle';
    let x = 26.2; const y = 177.7;
    series.forEach(s => {
      ctx.strokeStyle = s.color; ctx.lineWidth = 2;
      ctx.beginPath(); ctx.moveTo(x, y); ctx.lineTo(x + 30, y); ctx.stroke();
      ctx.fillStyle = s.color; ctx.beginPath(); ctx.arc(x + 15, y, 4.2, 0, 7); ctx.fill();
      ctx.fillStyle = '#595959'; ctx.fillText(s.name, x + 32.5, y + 0.5);
      x += 32.5 + ctx.measureText(s.name).width + 12.5;
    });
    ctx.restore();
  }};
  new Chart(el('c6'), {
    type: 'line',
    data: {datasets: series.map(s => ({
      label: s.name, data: zip(hmSample, s.vals), order: s.order,
      borderColor: s.color, borderWidth: 2.2, tension: 0.4,
      pointRadius: 4.2, pointBackgroundColor: s.color, pointBorderColor: s.color, pointBorderWidth: 1
    }))},
    options: {
      layout: {padding: {left: 0, top: 42, right: 9.8, bottom: 71}},
      scales: {
        x: {type: 'linear', position: {y: 0}, min: 0, max: 8, afterBuildTicks: setTicks([0, 2, 4, 6, 8]),
            border: {display: false}, grid: {color: '#d9d9d9', drawTicks: false},
            ticks: {padding: 11, color: '#595959', font: {family: 'Lato', size: 12.5}, maxRotation: 0}},
        y: {min: -200, max: 600, afterBuildTicks: setTicks([-200, 0, 200, 400, 600]), afterFit: s => { s.width = 57.6; },
            border: {display: false},
            grid: {drawTicks: false, color: ctx => (ctx.tick && ctx.tick.value === 0 ? '#bfbfbf' : '#d9d9d9')},
            ticks: {autoSkip: false, padding: 12, color: '#595959', font: {family: 'Lato', size: 12.5}, callback: v => v.toFixed(2)}}
      }
    },
    plugins: [legend]
  });
})();

// formatting marks inside the captions
document.querySelectorAll('.cap').forEach(d => {
  d.innerHTML = d.innerHTML.replace(/([·¤])/g, '<span class="m">$1</span>');
});
</script>
</body>
</html>
